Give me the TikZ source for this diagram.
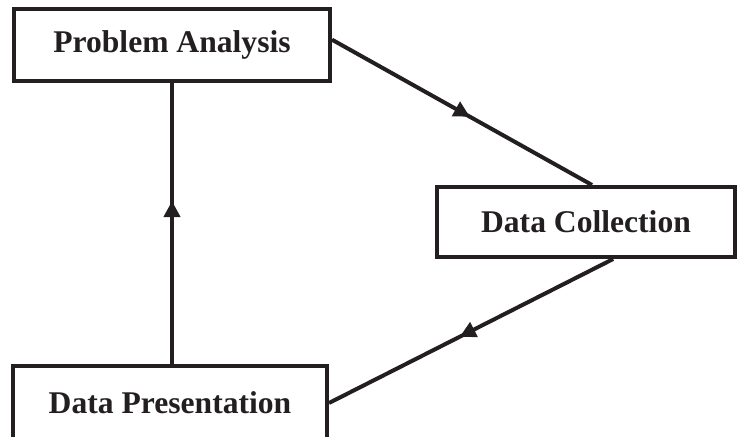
\documentclass[tikz,border=0pt]{standalone}
\usepackage{fontspec}
\setmainfont{Liberation Serif}
\usetikzlibrary{positioning,arrows.meta,decorations.markings,calc}
\definecolor{ink}{HTML}{231F20}

\begin{document}
\begin{tikzpicture}[x=0.5pt, y=0.5pt,
	block/.style={draw=ink, text=ink, line width=2pt, inner sep=0pt, font=\fontsize{15.8}{19}\selectfont\bfseries},
	flow/.style={draw=ink, line width=2pt, postaction={decorate},
		decoration={markings, mark=at position #1 with {\arrow[ink]{Triangle[length=8pt, width=8pt]}}}}]
	\useasboundingbox (0,0) rectangle (739,436);

	\node[block, minimum width=158pt, minimum height=36pt] (PA) at (172,391) {Problem Analysis};
	\node[block, minimum width=149pt, minimum height=35pt] (DC) at (586,214) {Data Collection};
	\node[block, minimum width=157pt, minimum height=37pt] (DP) at (170,33) {Data Presentation};

	\draw[flow=0.53] ($(PA.north east)!0.43!(PA.south east)$) -- ($(DC.north west)!0.52!(DC.north east)$);
	\draw[flow=0.54] ($(DC.south west)!0.59!(DC.south east)$) -- (DP.east);
	\draw[flow=0.58] (PA.south |- DP.north) -- (PA.south);
\end{tikzpicture}
\end{document}
